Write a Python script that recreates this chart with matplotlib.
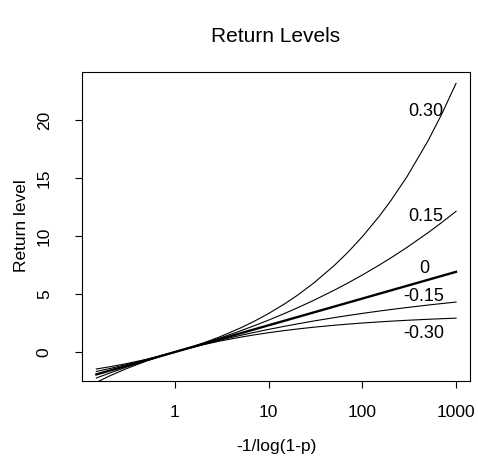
import matplotlib
matplotlib.use("Agg")
import matplotlib.pyplot as plt

plt.rcParams['font.family'] = ['Liberation Sans', 'DejaVu Sans']

# return period axis values -1/log(1-p)
period = [0.1448, 0.2, 0.3, 0.5, 0.7, 1, 1.5, 2, 3, 5, 7, 10, 15, 20, 30,
          50, 70, 100, 150, 200, 300, 500, 700, 999.5]

# return levels for each shape parameter
level_p30 = [-1.466, -1.276, -1.011, -0.626, -0.338, 0, 0.431, 0.770, 1.301,
             2.069, 2.643, 3.318, 4.178, 4.855, 5.915, 7.445, 8.590, 9.937,
             11.653, 13.004, 15.118, 18.172, 20.460, 23.144]
level_p15 = [-1.677, -1.430, -1.101, -0.658, -0.348, 0, 0.418, 0.731, 1.195,
             1.820, 2.260, 2.750, 3.341, 3.783, 4.437, 5.321, 5.941, 6.635,
             7.469, 8.091, 9.018, 10.267, 11.144, 12.121]
level_0 = [-1.932, -1.609, -1.204, -0.693, -0.357, 0, 0.405, 0.693, 1.099,
           1.609, 1.946, 2.303, 2.708, 2.996, 3.401, 3.912, 4.248, 4.605,
           5.011, 5.298, 5.704, 6.215, 6.551, 6.907]
level_m15 = [-2.241, -1.821, -1.319, -0.731, -0.367, 0, 0.393, 0.658, 1.013,
             1.430, 1.688, 1.947, 2.225, 2.413, 2.664, 2.959, 3.141, 3.325,
             3.523, 3.655, 3.833, 4.042, 4.171, 4.301]
level_m30 = [-2.618, -2.068, -1.450, -0.770, -0.377, 0, 0.382, 0.626, 0.936,
             1.276, 1.474, 1.663, 1.854, 1.976, 2.132, 2.302, 2.401, 2.496,
             2.592, 2.653, 2.731, 2.817, 2.866, 2.914]

curve_labels = ["0.30", "0.15", "0", "-0.15", "-0.30"]
label_x = [470, 470, 460, 450, 450]
label_y = [20.7, 11.7, 7.2, 4.8, 1.6]

x_ticks = [1, 10, 100, 1000]
y_ticks = [0, 5, 10, 15, 20]

fig = plt.figure(figsize=(4.78, 4.59), dpi=100)
ax = fig.add_axes([81.7 / 478, 1 - 381 / 459, (470 - 81.7) / 478, (381 - 72.3) / 459])

for lev in [level_p30, level_p15, level_m15, level_m30]:
    ax.plot(period, lev, color='black', lw=0.8)
ax.plot(period, level_0, color='black', lw=1.7)

for lab, tx, ty in zip(curve_labels, label_x, label_y):
    ax.text(tx, ty, lab, ha='center', va='center', fontsize=13)

ax.set_xscale('log')
ax.set_xlim(0.101, 1409)
ax.set_ylim(-2.5, 24.1)
ax.set_xticks(x_ticks)
ax.set_xticklabels([str(v) for v in x_ticks])
ax.xaxis.set_minor_locator(matplotlib.ticker.NullLocator())
ax.set_yticks(y_ticks)
ax.set_yticklabels([str(v) for v in y_ticks], rotation=90, va='center')

ax.tick_params(direction='out', length=5, width=0.8, labelsize=12.5, pad=12.5)
ax.tick_params(axis='y', pad=16.5)
for sp in ax.spines.values():
    sp.set_linewidth(0.8)

fig.text(276 / 478, 1 - 36 / 459, "Return Levels", ha='center', va='center', fontsize=15)
fig.text(276 / 478, 1 - 446 / 459, "-1/log(1-p)", ha='center', va='center', fontsize=12.5)
fig.text(22 / 478, 1 - 226 / 459, "Return level", ha='center', va='center',
         rotation=90, fontsize=12.5)

fig.savefig("out.png", dpi=100)
